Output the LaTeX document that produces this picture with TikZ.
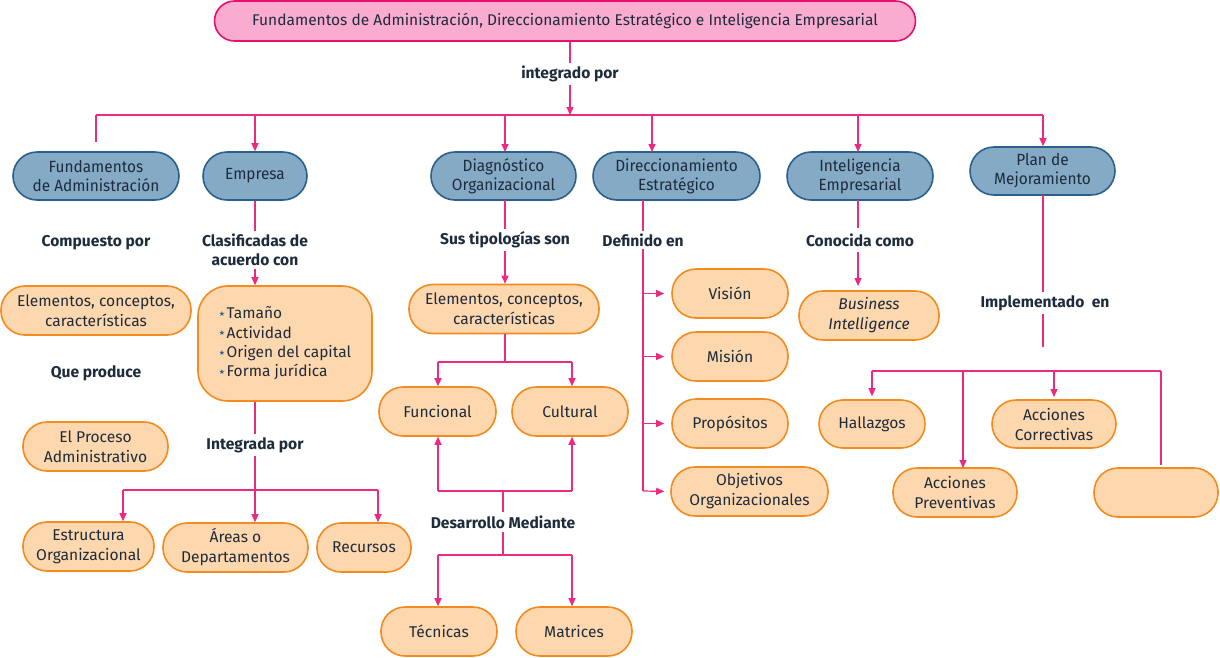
\documentclass[tikz,border=0pt]{standalone}
\usepackage{fontspec}
\setmainfont{Fira Sans}
\newfontfamily\condfont[FakeStretch=0.95]{Fira Sans}
\newfontfamily\symfont{DejaVu Sans}
\usetikzlibrary{arrows.meta}
\definecolor{pinkfill}{HTML}{F9ABD0}
\definecolor{pinkdraw}{HTML}{E8106E}
\definecolor{bluefill}{HTML}{84AAC6}
\definecolor{bluedraw}{HTML}{2B5F8C}
\definecolor{orfill}{HTML}{FDD7AD}
\definecolor{ordraw}{HTML}{F38B1F}
\definecolor{txt}{HTML}{1E2B3C}
\definecolor{conn}{HTML}{EC2A80}
\tikzset{
  pinkbox/.style={draw=pinkdraw, fill=pinkfill, line width=1.6pt, rounded corners=20pt,
    minimum height=40pt, inner sep=0pt, text=txt, font=\fontsize{15.5}{17}\selectfont},
  bluebox/.style={draw=bluedraw, fill=bluefill, line width=1.6pt, rounded corners=24pt,
    minimum height=48pt, inner sep=0pt, align=center, text=txt,
    font=\condfont\fontsize{16.2}{19}\selectfont},
  orbox/.style={draw=ordraw, fill=orfill, line width=1.6pt, rounded corners=24pt,
    minimum height=49pt, inner sep=0pt, align=center, text=txt,
    font=\fontsize{15.6}{20}\selectfont},
  lbl/.style={font=\bfseries\fontsize{15.6}{19}\selectfont, text=txt, align=center,
    inner sep=3pt, fill=white},
  conn/.style={draw=conn, line width=1.2pt},
  arr/.style={conn, -{Triangle[length=8pt,width=7pt]}}
}
\newcommand{\stb}{\raisebox{2.5pt}{\textcolor{bluedraw}{\symfont\fontsize{7}{7}\selectfont ★}}\hspace{1.5pt}}
\begin{document}
\begin{tikzpicture}[x=1pt,y=-1pt]
\useasboundingbox (0,0) rectangle (1220,657);

% top
\node[pinkbox, minimum width=701pt] (top) at (565,21) {Fundamentos de Administración, Direccionamiento Estratégico e Inteligencia Empresarial};
\node[lbl] (lint) at (570,74) {integrado por};

% level 1
\node[bluebox, minimum width=166pt] (fa) at (96,176) {Fundamentos\\de Administración};
\node[bluebox, minimum width=104pt] (emp) at (255,176) {Empresa};
\node[bluebox, minimum width=145pt] (diag) at (503.5,176) {Diagnóstico\\Organizacional};
\node[bluebox, minimum width=167pt] (dir) at (676.5,176) {Direccionamiento\\Estratégico};
\node[bluebox, minimum width=146pt] (intel) at (860,176) {Inteligencia\\Empresarial};
\node[bluebox, minimum width=145pt] (plan) at (1042.5,171) {Plan de\\Mejoramiento};

% bus
\coordinate (bl) at (96,115);
\coordinate (br) at (1043,115);
\coordinate (bc) at (570,115);
\draw[conn] (top.south -| bc) -- (lint.north);
\draw[arr] (lint.south) -- (bc);
\draw[conn] (bl) -- (br);
\draw[conn] (bl) -- ([yshift=9pt]fa.north);
\draw[arr] (emp.north |- bl) -- (emp.north);
\draw[arr] (505,115) -- (505,152);
\draw[arr] (652,115) -- (652,152);
\draw[arr] (858,115) -- (858,152);
\draw[arr] (br) -- (br |- plan.north);

% Fundamentos column
\node[lbl] (lcomp) at (96,243) {Compuesto por};
\node[orbox, minimum width=190pt] (elem1) at (96,310.5) {Elementos, conceptos,\\características};
\node[lbl] (lprod) at (96,373) {Que produce};
\node[orbox, minimum width=145pt] (proc) at (95.5,446.5) {El Proceso\\Administrativo};

% Empresa column
\node[lbl] (lclas) at (255,250) {Clasificadas de\\acuerdo con};
\node[orbox, minimum width=174pt, minimum height=115pt, rounded corners=30pt, align=left,
  font=\fontsize{15.5}{19.4}\selectfont] (clas) at (285,343.5)
  {\stb Tamaño\\\stb Actividad\\\stb Origen del capital\\\stb Forma jurídica};
\draw[conn] (emp.south) -- (lclas.north);
\draw[arr] (lclas.south) -- (lclas.south |- clas.north);
\node[lbl] (lintg) at (255,445) {Integrada por};
\draw[conn] (lclas.south |- clas.south) -- (lintg.north);
\node[orbox, minimum width=131pt] (estr) at (88.5,546.5) {Estructura\\Organizacional};
\node[orbox, minimum width=145pt] (areas) at (235.5,547.5) {Áreas o\\Departamentos};
\node[orbox, minimum width=94pt] (rec) at (364,547.5) {Recursos};
\coordinate (iL) at (123,490);
\coordinate (iR) at (378,490);
\draw[arr] (lintg.south) -- (lintg.south |- areas.north);
\draw[conn] (iL) -- (iR);
\draw[arr] (iL) -- (iL |- estr.north);
\draw[arr] (iR) -- (iR |- rec.north);

% Diagnostico column
\node[lbl] (ltip) at (505,240) {Sus tipologías son};
\node[orbox, minimum width=190pt] (elem2) at (504,309) {Elementos, conceptos,\\características};
\draw[conn] (505,200) -- (ltip.north);
\draw[arr] (ltip.south) -- (ltip.south |- elem2.north);
\node[orbox, minimum width=117pt] (func) at (437.5,411.5) {Funcional};
\node[orbox, minimum width=116pt] (cult) at (570,411.5) {Cultural};
\coordinate (tL) at (438,362);
\coordinate (tR) at (572,362);
\draw[conn] (ltip.south |- elem2.south) -- (505,362);
\draw[conn] (tL) -- (tR);
\draw[arr] (tL) -- (tL |- func.north);
\draw[arr] (tR) -- (tR |- cult.north);
\node[lbl] (ldes) at (503,522) {Desarrollo Mediante};
\coordinate (uL) at (438,491);
\coordinate (uR) at (572,491);
\draw[conn] (ldes.north) -- (ldes.north |- uL);
\draw[conn] (uL) -- (uR);
\draw[arr] (uL) -- (uL |- func.south);
\draw[arr] (uR) -- (uR |- cult.south);
\node[orbox, minimum width=116pt] (tec) at (439,631.5) {Técnicas};
\node[orbox, minimum width=116pt] (mat) at (574,631.5) {Matrices};
\coordinate (dL) at (438,555);
\coordinate (dR) at (572,555);
\draw[conn] (ldes.south) -- (ldes.south |- dL);
\draw[conn] (dL) -- (dR);
\draw[arr] (dL) -- (dL |- tec.north);
\draw[arr] (dR) -- (dR |- mat.north);

% Direccionamiento column
\node[orbox, minimum width=116pt] (vis) at (730,293.5) {Visión};
\node[orbox, minimum width=116pt] (mis) at (730,356.5) {Misión};
\node[orbox, minimum width=116pt] (prop) at (730,423.5) {Propósitos};
\node[orbox, minimum width=157pt] (obj) at (749.5,491.5) {Objetivos\\Organizacionales};
\coordinate (dtop) at (643,200);
\coordinate (dbot) at (643,491);
\draw[conn] (dtop) -- (dbot);
\draw[arr, shorten >=7pt] (dtop |- vis) -- (vis.west);
\draw[arr, shorten >=7pt] (dtop |- mis) -- (mis.west);
\draw[arr, shorten >=7pt] (dtop |- prop) -- (prop.west);
\draw[arr, shorten >=6pt] (dbot) -- (obj.west);
\node[lbl] (ldef) at (643,240) {Definido en};

% Inteligencia column
\node[lbl] (lcon) at (860,240) {Conocida como};
\node[orbox, minimum width=140pt, font=\itshape\fontsize{15.6}{20}\selectfont] (bi) at (869,315.5) {Business\\Intelligence};
\draw[conn] (858,200) -- (858 ,228);
\draw[arr] (858,252) -- (858,286);

% Plan column
\coordinate (ptop) at (1043,195);
\coordinate (pend) at (1043,347);
\draw[conn] (ptop) -- (pend);
\node[lbl] (limp) at (1045,303) {Implementado\ \ en};
\node[orbox, minimum width=106pt, minimum height=48pt] (hall) at (872,424) {Hallazgos};
\node[orbox, minimum width=124pt, minimum height=48pt] (corr) at (1054,424) {Acciones\\Correctivas};
\node[orbox, minimum width=124pt] (prev) at (955,492.5) {Acciones\\Preventivas};
\node[orbox, minimum width=124pt] (empty) at (1156,492.5) {};
\coordinate (pL) at (872,371);
\coordinate (pR) at (1161,371);
\draw[conn] (pL) -- (pR);
\draw[arr, shorten >=3pt] (pL) -- (pL |- hall.north);
\draw[arr] (963,371) -- (963,468);
\draw[arr, shorten >=3pt] (1054,371) -- (1054,400);
\draw[conn] (pR) -- (1161,465);
\end{tikzpicture}
\end{document}
